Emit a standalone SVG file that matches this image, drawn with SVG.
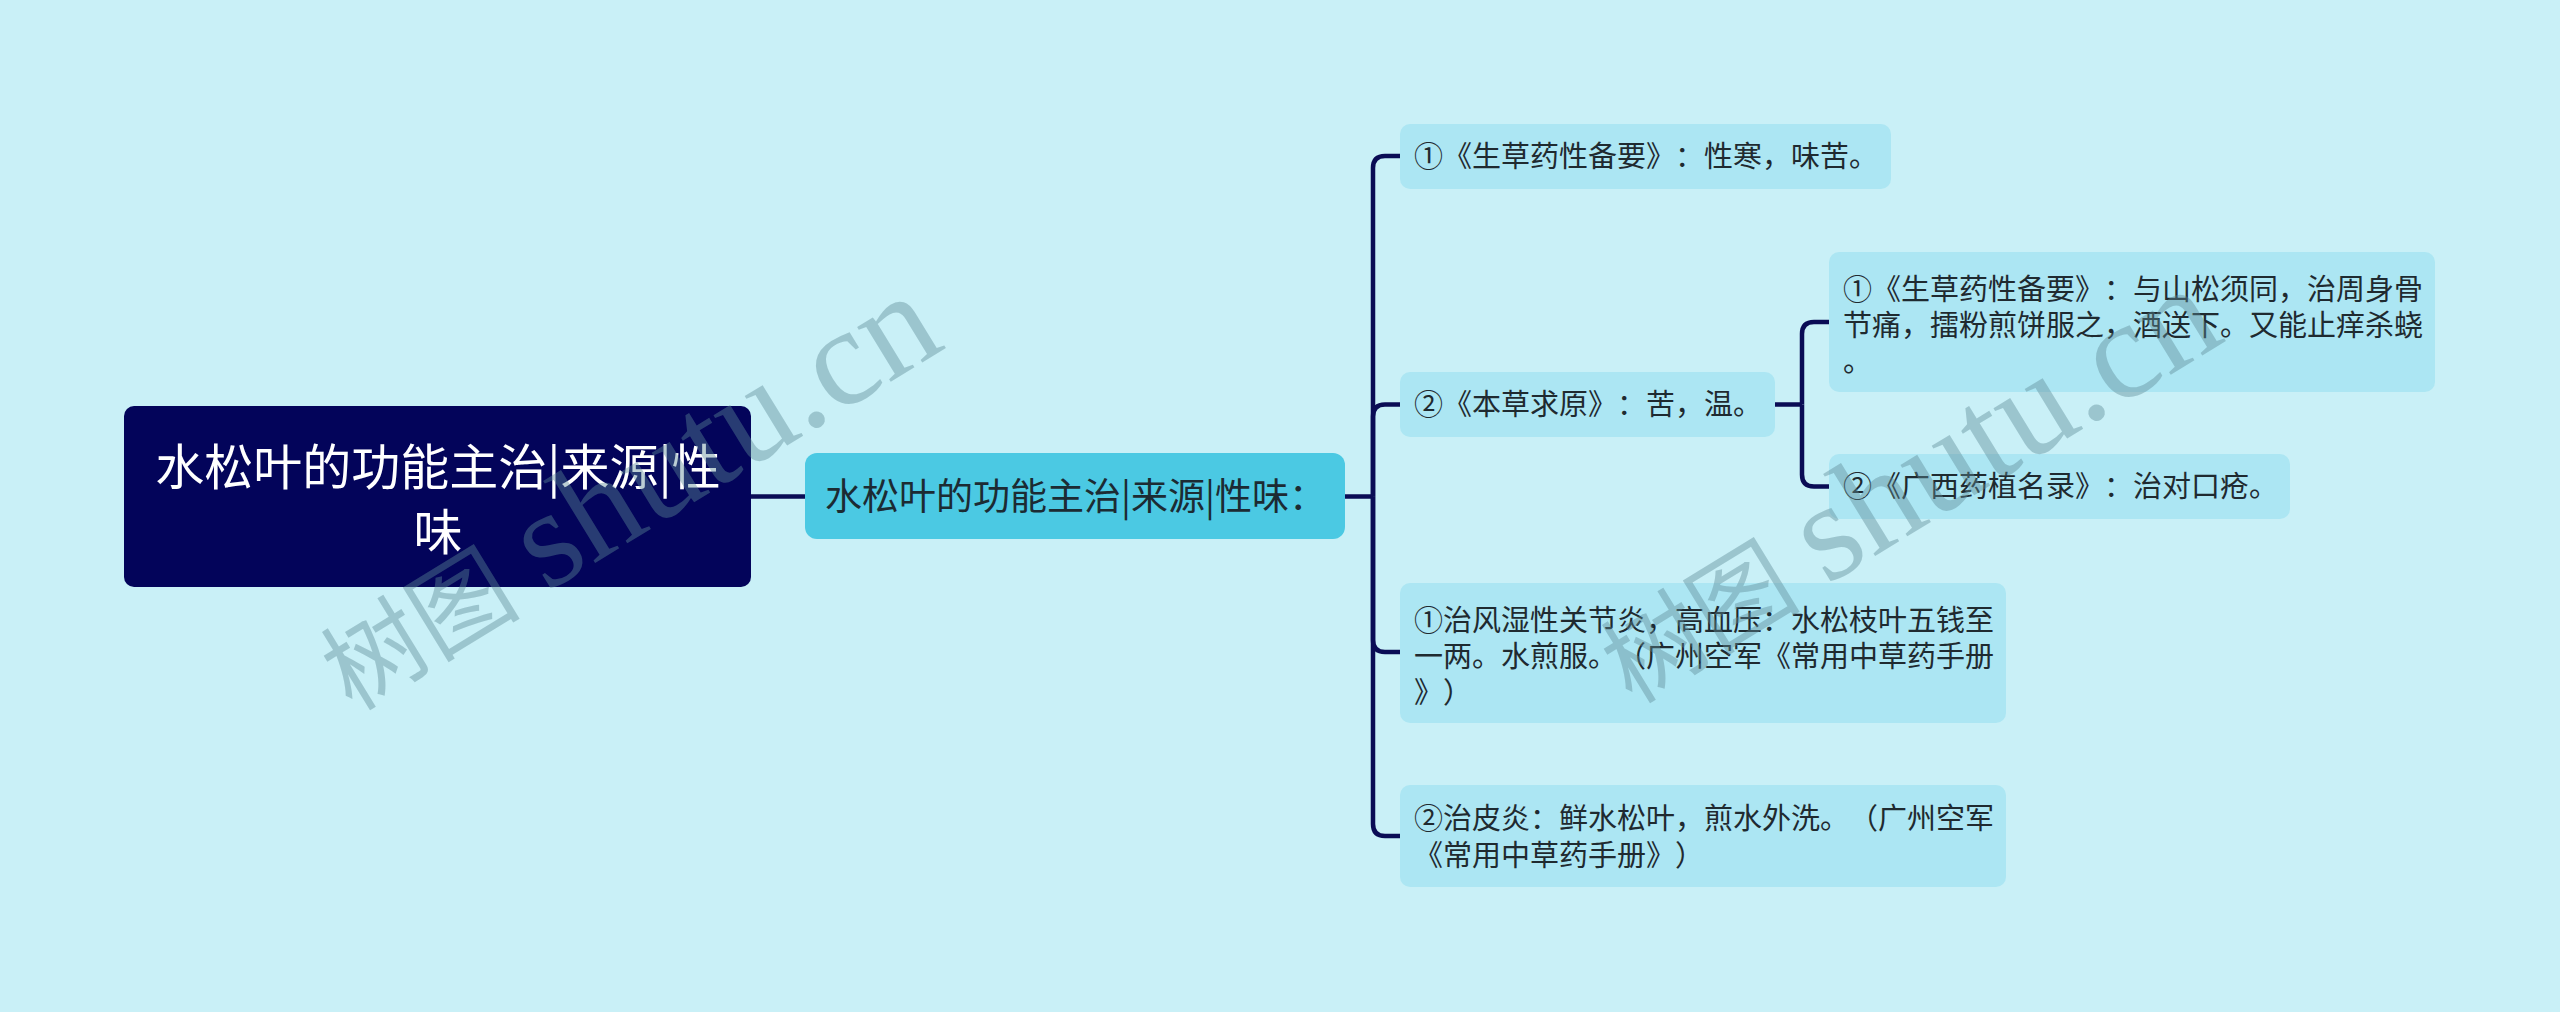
<svg xmlns="http://www.w3.org/2000/svg" width="2560" height="1012" viewBox="0 0 2560 1012">
<style>
.bg{fill:#C9F0F7}
.root{fill:#03045A}
.main{fill:#4BC9E3}
.leaf{fill:#ACE6F3}
.t{font-family:"Noto Sans CJK SC","Noto Sans",sans-serif;text-spacing-trim:space-all}
.rt{font-size:49px;fill:#FFFFFF;text-anchor:middle}
.mt{font-size:37px;fill:#1C2B33}
.lt{font-size:29px;fill:#1F2A30}
.conn path{fill:none;stroke:#0A0C55;stroke-width:4.5;stroke-linecap:butt;stroke-linejoin:round}
.wm{fill:#5E8A96;fill-opacity:0.42}
.wmc{font-family:"Noto Sans CJK SC",serif;font-size:100px}
.wml{font-family:"Liberation Serif",serif;font-size:140px}
</style>
<rect class="bg" x="0" y="0" width="2560" height="1012"/>

<g id="connectors" class="conn">
  <path d="M751 496.5 H805"/>
  <path d="M1345 496.5 H1373"/>
  <path d="M1373 496.5 V168 Q1373 156 1385 156 H1400"/>
  <path d="M1373 496.5 V416.5 Q1373 404.5 1385 404.5 H1400"/>
  <path d="M1373 496.5 V640 Q1373 652 1385 652 H1400"/>
  <path d="M1373 496.5 V824 Q1373 836 1385 836 H1400"/>
  <path d="M1775 404.5 H1802"/>
  <path d="M1802 404.5 V334 Q1802 322 1814 322 H1829"/>
  <path d="M1802 404.5 V474.5 Q1802 486.5 1814 486.5 H1829"/>
</g>

<g id="root">
  <rect class="root" x="124" y="406" width="627" height="181" rx="10"/>
  <text class="t rt" x="438" y="485">水松叶的功能主治|来源|性</text>
  <text class="t rt" x="438" y="550">味</text>
</g>

<g id="main">
  <rect class="main" x="805" y="453" width="540" height="86" rx="12"/>
  <text class="t mt" x="825" y="510">水松叶的功能主治|来源|性味：</text>
</g>

<g id="nodeA">
  <rect class="leaf" x="1400" y="124" width="491" height="65" rx="10"/>
  <text class="t lt" x="1414" y="167">①《生草药性备要》：性寒，味苦。</text>
</g>

<g id="nodeB">
  <rect class="leaf" x="1400" y="372" width="375" height="65" rx="10"/>
  <text class="t lt" x="1414" y="415">②《本草求原》：苦，温。</text>
</g>

<g id="nodeB1">
  <rect class="leaf" x="1829" y="252" width="606" height="140" rx="10"/>
  <text class="t lt" x="1843" y="300">①《生草药性备要》：与山松须同，治周身骨</text>
  <text class="t lt" x="1843" y="336">节痛，擂粉煎饼服之，酒送下。又能止痒杀蛲</text>
  <text class="t lt" x="1843" y="372">。</text>
</g>

<g id="nodeB2">
  <rect class="leaf" x="1829" y="454" width="461" height="65" rx="10"/>
  <text class="t lt" x="1843" y="497">②《广西药植名录》：治对口疮。</text>
</g>

<g id="nodeC">
  <rect class="leaf" x="1400" y="583" width="606" height="140" rx="10"/>
  <text class="t lt" x="1414" y="631">①治风湿性关节炎，高血压：水松枝叶五钱至</text>
  <text class="t lt" x="1414" y="667">一两。水煎服。（广州空军《常用中草药手册</text>
  <text class="t lt" x="1414" y="703">》）</text>
</g>

<g id="nodeD">
  <rect class="leaf" x="1400" y="785" width="606" height="102" rx="10"/>
  <text class="t lt" x="1414" y="829">②治皮炎：鲜水松叶，煎水外洗。（广州空军</text>
  <text class="t lt" x="1414" y="866">《常用中草药手册》）</text>
</g>

<g id="watermark" class="wm">
  <g transform="translate(352,712) rotate(-31.5)">
    <text class="wmc" x="0" y="0">树图</text>
    <text class="wml" x="228" y="0">shutu.cn</text>
  </g>
  <g transform="translate(1632,705) rotate(-31.5)">
    <text class="wmc" x="0" y="0">树图</text>
    <text class="wml" x="228" y="0">shutu.cn</text>
  </g>
</g>
</svg>
